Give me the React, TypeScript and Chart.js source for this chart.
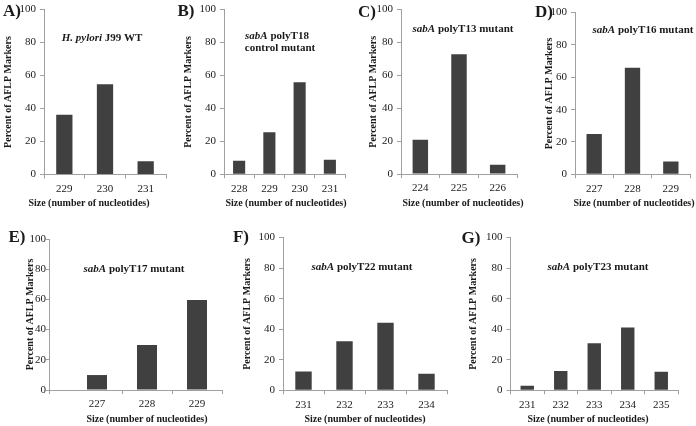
import React, { useEffect, useRef } from 'react';
import { Chart, registerables } from 'chart.js';

Chart.register(...registerables);

const FONT = '"Liberation Serif", "Times New Roman", serif';
const BAR = '#404040';
const AXIS = '#a0a0a0';
const TEXT = '#1a1a1a';

// ---- data ----
const catsA = [229, 230, 231];
const valsA = [36.2, 54.8, 8.1];
const catsB = [228, 229, 230, 231];
const valsB = [8.2, 25.5, 55.9, 8.8];
const catsC = [224, 225, 226];
const valsC = [20.9, 72.8, 5.7];
const catsD = [227, 228, 229];
const valsD = [24.9, 65.9, 7.9];
const catsE = [227, 228, 229];
const valsE = [9.9, 29.8, 59.6];
const catsF = [231, 232, 233, 234];
const valsF = [12.3, 32.1, 44.2, 10.8];
const catsG = [231, 232, 233, 234, 235];
const valsG = [3.0, 12.7, 30.8, 41.2, 12.1];

const yMin = 0;
const yMax = 100;
const yStep = 20;

const yTitle = 'Percent of AFLP Markers';
const xTitle = 'Size (number of nucleotides)';

type Seg = { t: string; i?: boolean };
type Panel = {
  letter: string;
  cats: number[];
  vals: number[];
  l: number; r: number; t: number; b: number;
  ytx: number;
  ytp?: number; ytl?: number;
  xmin?: number; xmax?: number;
  lx: number; ly: number;
  title: { segs: Seg[]; x: number; y: number }[];
  xtx: number; xty: number;
};

const panels: Panel[] = [
  { letter: 'A)', cats: catsA, vals: valsA, l: 44, r: 166, t: 7.5, b: 174.5, ytx: 8, lx: 12, ly: 10,
    title: [{ segs: [{ t: 'H. pylori', i: true }, { t: ' J99 WT' }], x: 102, y: 37 }], xtx: 89, xty: 203 },
  { letter: 'B)', cats: catsB, vals: valsB, l: 224, r: 345, t: 7.3, b: 174.3, ytx: 188, lx: 186, ly: 10,
    title: [
      { segs: [{ t: 'sabA', i: true }, { t: ' polyT18' }], x: 277, y: 35 },
      { segs: [{ t: 'control mutant' }], x: 280, y: 47 },
    ], xtx: 286, xty: 203 },
  { letter: 'C)', cats: catsC, vals: valsC, l: 401, r: 517, t: 7.3, b: 174, ytx: 373, lx: 367, ly: 11,
    title: [{ segs: [{ t: 'sabA', i: true }, { t: ' polyT13 mutant' }], x: 463, y: 28 }], xtx: 463, xty: 203 },
  { letter: 'D)', cats: catsD, vals: valsD, l: 575, r: 690, t: 10, b: 174.3, ytx: 549, lx: 544, ly: 11,
    title: [{ segs: [{ t: 'sabA', i: true }, { t: ' polyT16 mutant' }], x: 643, y: 29 }], xtx: 634, xty: 203 },
  { letter: 'E)', cats: catsE, vals: valsE, l: 49, r: 222, t: 239, b: 390, ytx: 30, ytp: 0, ytl: 3, xmin: 226.04, xmax: 229.5, lx: 17, ly: 236,
    title: [{ segs: [{ t: 'sabA', i: true }, { t: ' polyT17 mutant' }], x: 134, y: 268 }], xtx: 147, xty: 419 },
  { letter: 'F)', cats: catsF, vals: valsF, l: 283, r: 447, t: 235.7, b: 390.3, ytx: 247, lx: 241, ly: 236,
    title: [{ segs: [{ t: 'sabA', i: true }, { t: ' polyT22 mutant' }], x: 362, y: 266 }], xtx: 365, xty: 419 },
  { letter: 'G)', cats: catsG, vals: valsG, l: 510.5, r: 678, t: 235.7, b: 390.3, ytx: 473, lx: 471, ly: 237,
    title: [{ segs: [{ t: 'sabA', i: true }, { t: ' polyT23 mutant' }], x: 598, y: 266 }], xtx: 588, xty: 419 },
];

function PanelChart({ p }: { p: Panel }) {
  const ref = useRef<HTMLCanvasElement>(null);
  const titleLH = 12;
  const canvasLeft = Math.floor(Math.min(p.ytx - titleLH / 2, p.l - 32));
  const titlePad = p.ytx - titleLH / 2 - canvasLeft;
  const wy = p.l - canvasLeft;
  const canvasTop = Math.floor(p.t - 8);
  const padTop = p.t - canvasTop;
  const width = Math.ceil(p.r + 5 - canvasLeft);
  const padRight = width - (p.r - canvasLeft);
  const height = Math.ceil(p.b + 24 - canvasTop);
  const hx = height - (p.b - canvasTop);

  useEffect(() => {
    if (!ref.current) return;
    const xmin = p.xmin ?? p.cats[0] - 0.5;
    const xmax = p.xmax ?? p.cats[p.cats.length - 1] + 0.5;
    const tickVals: number[] = [xmin, xmax];
    p.cats.forEach((c) => {
      tickVals.push(c);
      if (c - 0.5 >= xmin + 0.499) tickVals.push(c - 0.5);
      if (c + 0.5 <= xmax) tickVals.push(c + 0.5);
    });
    const uniq = Array.from(new Set(tickVals.map((v) => Math.round(v * 1000) / 1000))).sort((a, b) => a - b);
    const isLabel = (v: number) => p.cats.includes(v);
    const tickCol = (ctx: any) => (ctx.tick && isLabel(ctx.tick.value) ? 'rgba(0,0,0,0)' : AXIS);

    const chart = new Chart(ref.current, {
      type: 'bar',
      data: {
        datasets: [
          {
            data: p.cats.map((c, i) => ({ x: c, y: p.vals[i] })),
            backgroundColor: BAR,
            borderWidth: 0,
            categoryPercentage: 0.8,
            barPercentage: 1,
          },
        ],
      },
      options: {
        animation: false,
        responsive: false,
        devicePixelRatio: 1,
        layout: { padding: { top: padTop, right: padRight, left: 0, bottom: 0 } },
        plugins: { legend: { display: false }, tooltip: { enabled: false }, title: { display: false } },
        scales: {
          x: {
            type: 'linear',
            min: xmin,
            max: xmax,
            offset: false,
            afterBuildTicks: (s: any) => {
              s.ticks = uniq.map((v) => ({ value: v }));
            },
            afterFit: (s: any) => {
              s.height = hx;
            },
            ticks: {
              autoSkip: false,
              maxRotation: 0,
              minRotation: 0,
              padding: 4,
              color: TEXT,
              font: { family: FONT, size: 11 },
              callback: (v: any) => (isLabel(Number(v)) ? String(v) : ''),
            },
            grid: {
              display: true,
              offset: false,
              drawOnChartArea: false,
              drawTicks: true,
              tickLength: 4,
              color: tickCol,
              tickColor: tickCol,
            },
            border: { display: true, color: AXIS, width: 1 },
          },
          y: {
            type: 'linear',
            min: yMin,
            max: yMax,
            afterFit: (s: any) => {
              s.width = wy;
            },
            ticks: {
              stepSize: yStep,
              padding: p.ytp ?? 4,
              color: TEXT,
              font: { family: FONT, size: 11 },
            },
            grid: {
              display: true,
              drawOnChartArea: false,
              drawTicks: true,
              tickLength: p.ytl ?? 4,
              color: AXIS,
              tickColor: AXIS,
            },
            border: { display: true, color: AXIS, width: 1 },
            title: {
              display: true,
              text: yTitle,
              color: TEXT,
              padding: { top: titlePad, bottom: 0 },
              font: { family: FONT, size: 10, weight: 'bold' },
            },
          },
        },
      },
    });
    return () => chart.destroy();
  }, []);

  return (
    <canvas
      ref={ref}
      width={width}
      height={height}
      style={{ position: 'absolute', left: canvasLeft, top: canvasTop, width, height }}
    />
  );
}

const centered: React.CSSProperties = {
  position: 'absolute',
  transform: 'translate(-50%, -50%)',
  whiteSpace: 'nowrap',
  fontFamily: FONT,
  fontWeight: 'bold',
  color: TEXT,
  lineHeight: 1,
};

export default function App() {
  return (
    <div style={{ position: 'absolute', left: 0, top: 0, width: 696, height: 426, background: '#fff', overflow: 'hidden' }}>
      {panels.map((p, k) => (
        <React.Fragment key={k}>
          <PanelChart p={p} />
          <div style={{ ...centered, left: p.lx, top: p.ly, fontSize: 17 }}>{p.letter}</div>
          {p.title.map((line, j) => (
            <div key={j} style={{ ...centered, left: line.x, top: line.y, fontSize: 11 }}>
              {line.segs.map((s, m) => (s.i ? <i key={m}>{s.t}</i> : <span key={m}>{s.t}</span>))}
            </div>
          ))}
          <div style={{ ...centered, left: p.xtx, top: p.xty, fontSize: 10 }}>{xTitle}</div>
        </React.Fragment>
      ))}
    </div>
  );
}
